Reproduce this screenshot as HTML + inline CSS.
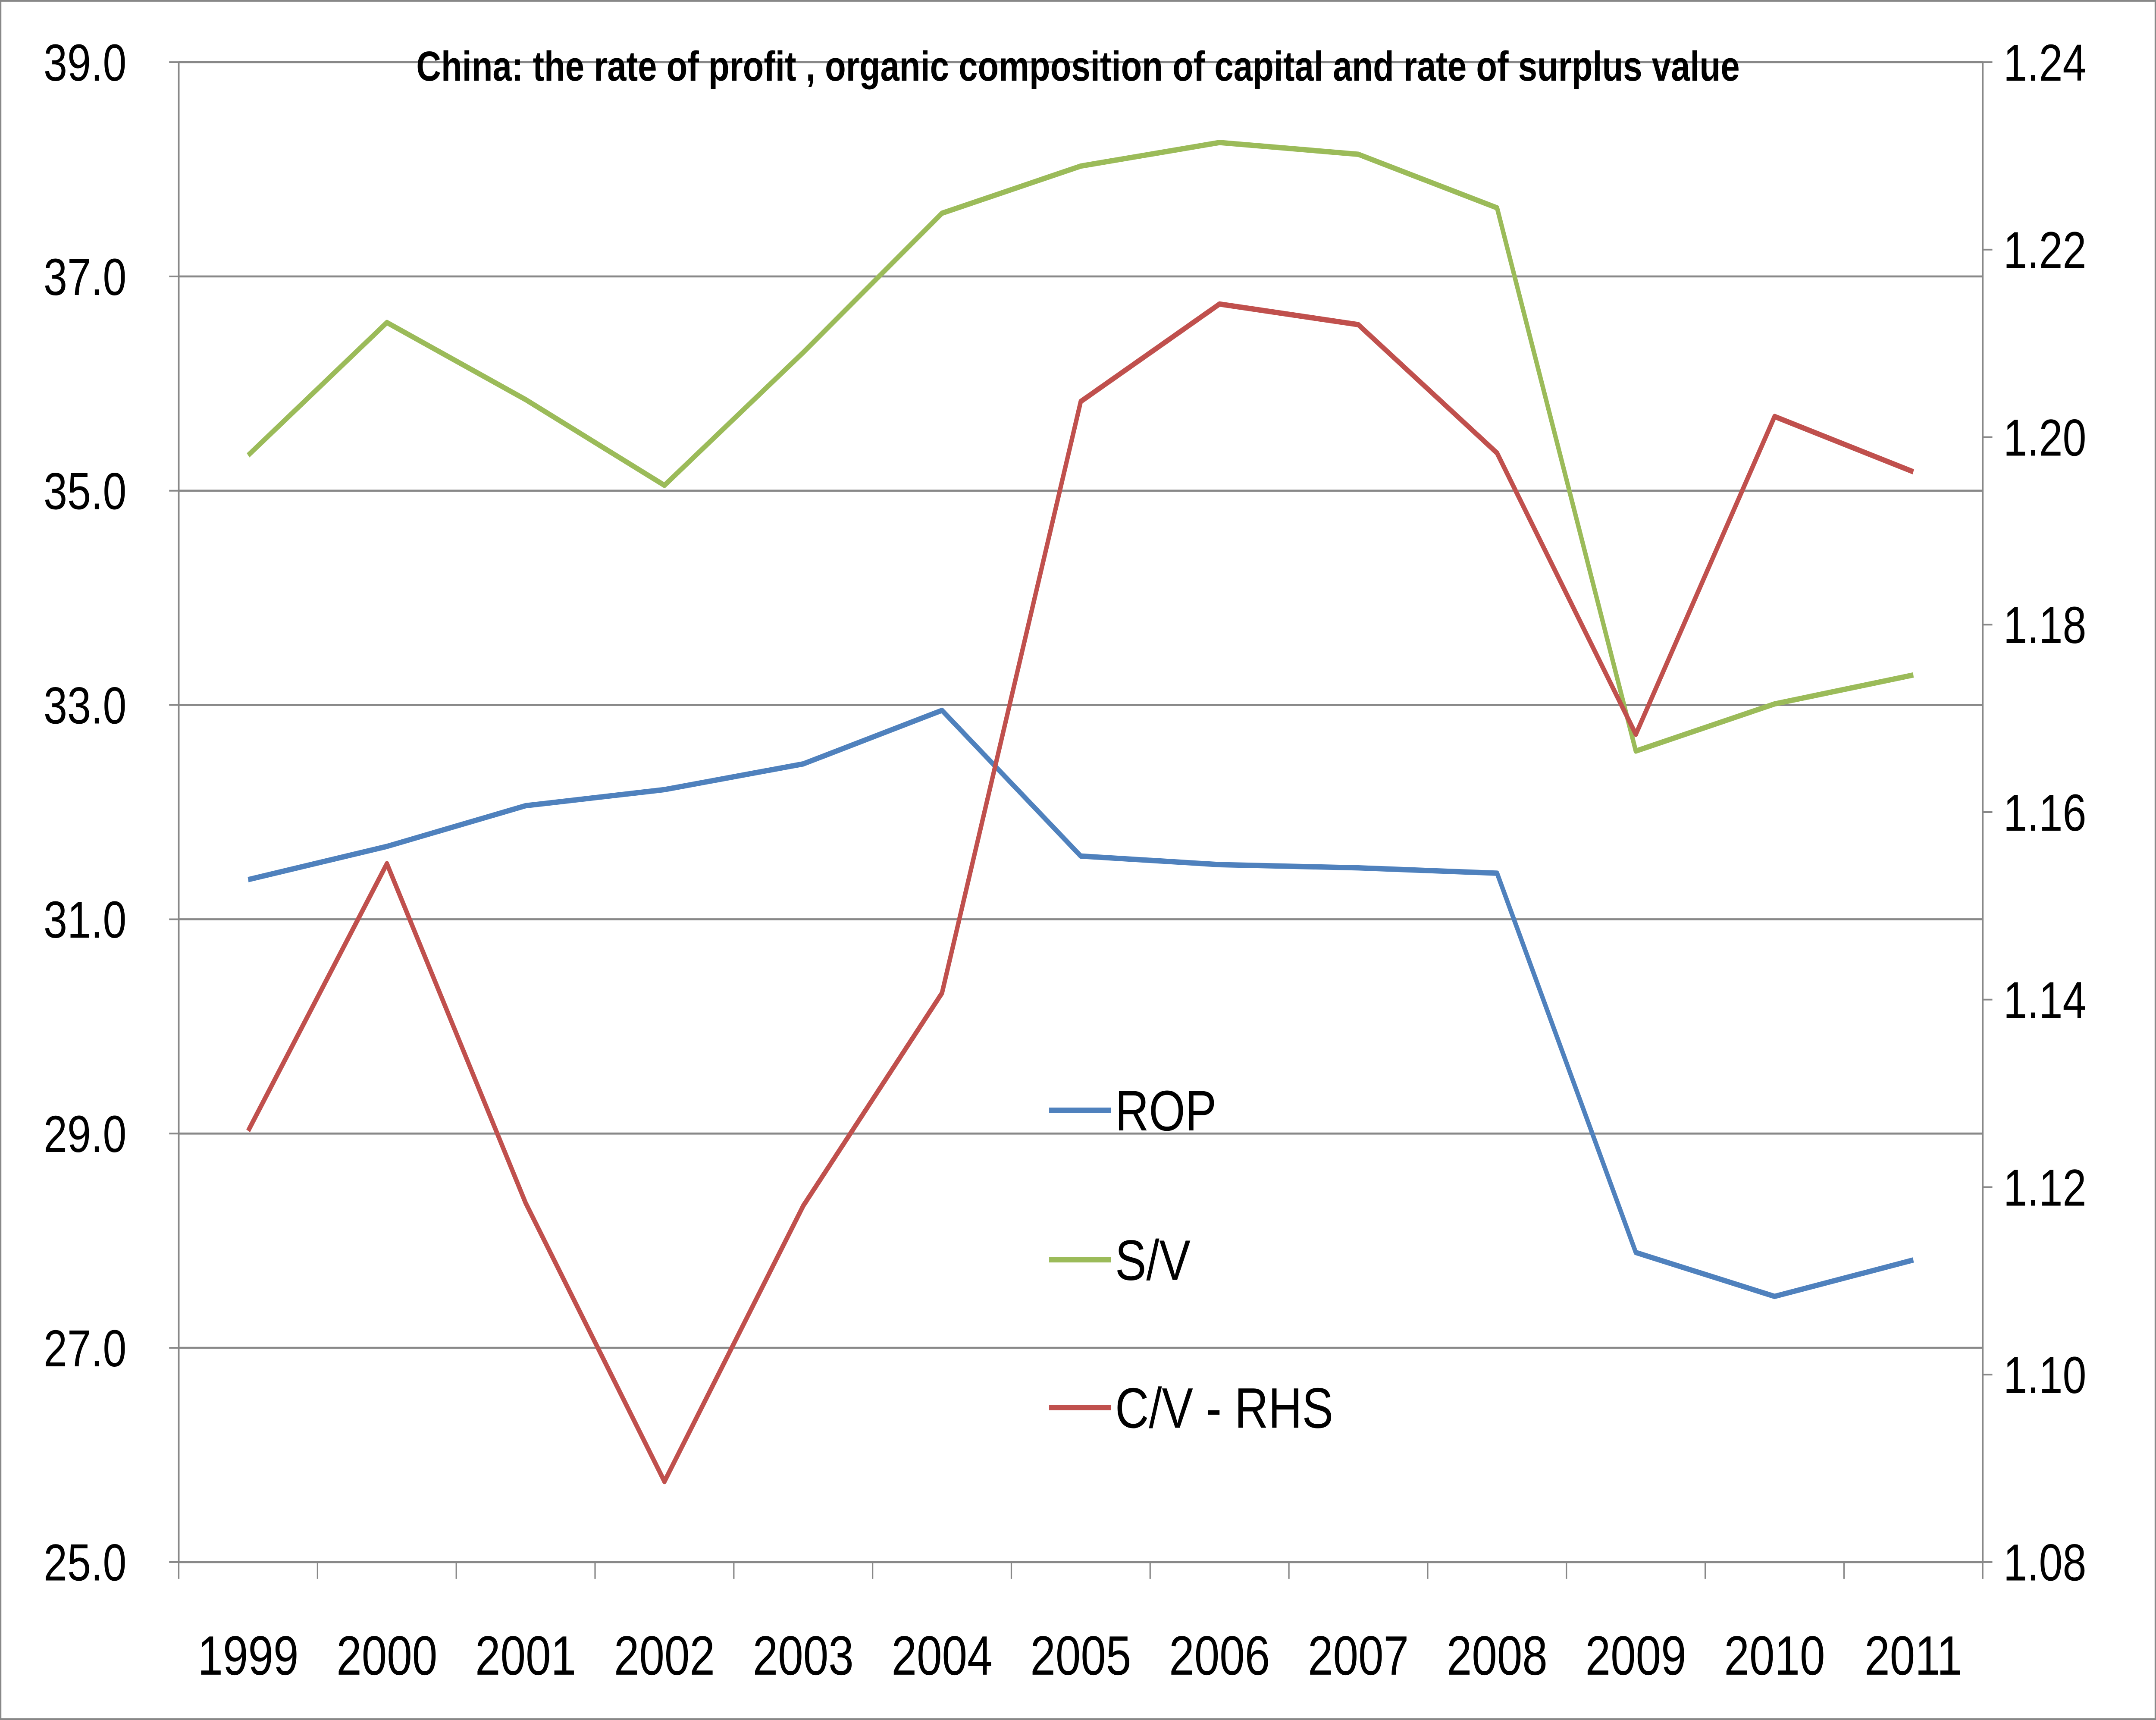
<!DOCTYPE html>
<html><head><meta charset="utf-8"><style>
html,body{margin:0;padding:0;background:#fff;width:100%;height:100%;overflow:hidden}
svg{display:block;width:100vw;height:100vh;position:fixed;left:0;top:0}
text{font-family:"Liberation Sans",sans-serif}
</style></head><body>
<svg id="chart" viewBox="0 0 1568 1024" preserveAspectRatio="none" xmlns="http://www.w3.org/2000/svg">
<rect x="0.5" y="0.5" width="1567" height="1023" fill="#fff" stroke="#888" stroke-width="1"/>
<g id="grid"></g><g id="axes"></g><g id="series"></g>
<text x="784" y="48" text-anchor="middle" font-size="25" font-weight="bold">China: the rate of profit , organic composition of capital and rate of surplus value</text>
<g id="legend"></g>
</svg>
<script>
const years=["1999","2000","2001","2002","2003","2004","2005","2006","2007","2008","2009","2010","2011"];
const rop=[31.37,31.68,32.06,32.21,32.45,32.95,31.59,31.51,31.48,31.43,27.89,27.48,27.82];
const sv=[35.33,36.57,35.85,35.05,36.29,37.59,38.03,38.25,38.14,37.64,32.57,33.01,33.28];
const cv=[1.126,1.1545,1.1183,1.0886,1.118,1.1407,1.2038,1.2142,1.212,1.1983,1.1683,1.2022,1.1963];
const leftTicks=[25,27,29,31,33,35,37,39];
const rightTicks=[1.08,1.10,1.12,1.14,1.16,1.18,1.20,1.22,1.24];
const NS="http://www.w3.org/2000/svg";
const L=130,R=1442,T=37,B=930;
const yL=v=>B-(v-25)/(39-25)*(B-T);
const yR=v=>B-(v-1.08)/(1.24-1.08)*(B-T);
const bw=(R-L)/years.length;
const x=i=>L+bw*(i+0.5);
function mk(tag,attrs,parent,txt){const e=document.createElementNS(NS,tag);for(const k in attrs)e.setAttribute(k,attrs[k]);if(txt!==undefined)e.textContent=txt;document.getElementById(parent).appendChild(e);return e;}
leftTicks.forEach(v=>{
 const g=mk('line',{x1:L,x2:R,y1:yL(v),y2:yL(v),stroke:'#888','stroke-width':1.2},'grid');
 
 
 const t=mk('text',{x:L-38,y:yL(v)+11,'text-anchor':'end','font-size':31},'axes',v.toFixed(1));
 
 
 mk('line',{x1:L-7,x2:L,y1:yL(v),y2:yL(v),stroke:'#888'},'axes');
});
rightTicks.forEach(v=>{
 const t=mk('text',{x:R+15,y:yR(v)+11,'font-size':31},'axes',v.toFixed(2));
 
 
 mk('line',{x1:R,x2:R+7,y1:yR(v),y2:yR(v),stroke:'#888'},'axes');
});
mk('line',{x1:L,x2:L,y1:T,y2:B,stroke:'#888','stroke-width':1.2},'axes');
mk('line',{x1:R,x2:R,y1:T,y2:B,stroke:'#888','stroke-width':1.2},'axes');
for(let i=0;i<=years.length;i++)mk('line',{x1:L+bw*i,x2:L+bw*i,y1:B,y2:B+10,stroke:'#888'},'axes');
years.forEach((y,i)=>{
 const t=mk('text',{x:x(i),y:997,'text-anchor':'middle','font-size':33},'axes',y);
 
 
});
function line(data,f,color,name){
 const p=mk('polyline',{points:data.map((v,i)=>x(i)+','+f(v)).join(' '),fill:'none',stroke:color,'stroke-width':3.2,'stroke-linejoin':'round'},'series');
 
 
}
line(sv,yL,'#9BBB59','sv-line');
line(rop,yL,'#4F81BD','rop-line');
line(cv,yR,'#C0504D','cv-line');
[['ROP','#4F81BD',661],['S/V','#9BBB59',750],['C/V - RHS','#C0504D',838]].forEach(([n,c,yy])=>{
 const l=mk('line',{x1:763,x2:808,y1:yy,y2:yy,stroke:c,'stroke-width':3.2},'legend');
 
 
 const t=mk('text',{x:811,y:yy+12,'font-size':34},'legend',n);
 
 
});
</script>
</body></html>
